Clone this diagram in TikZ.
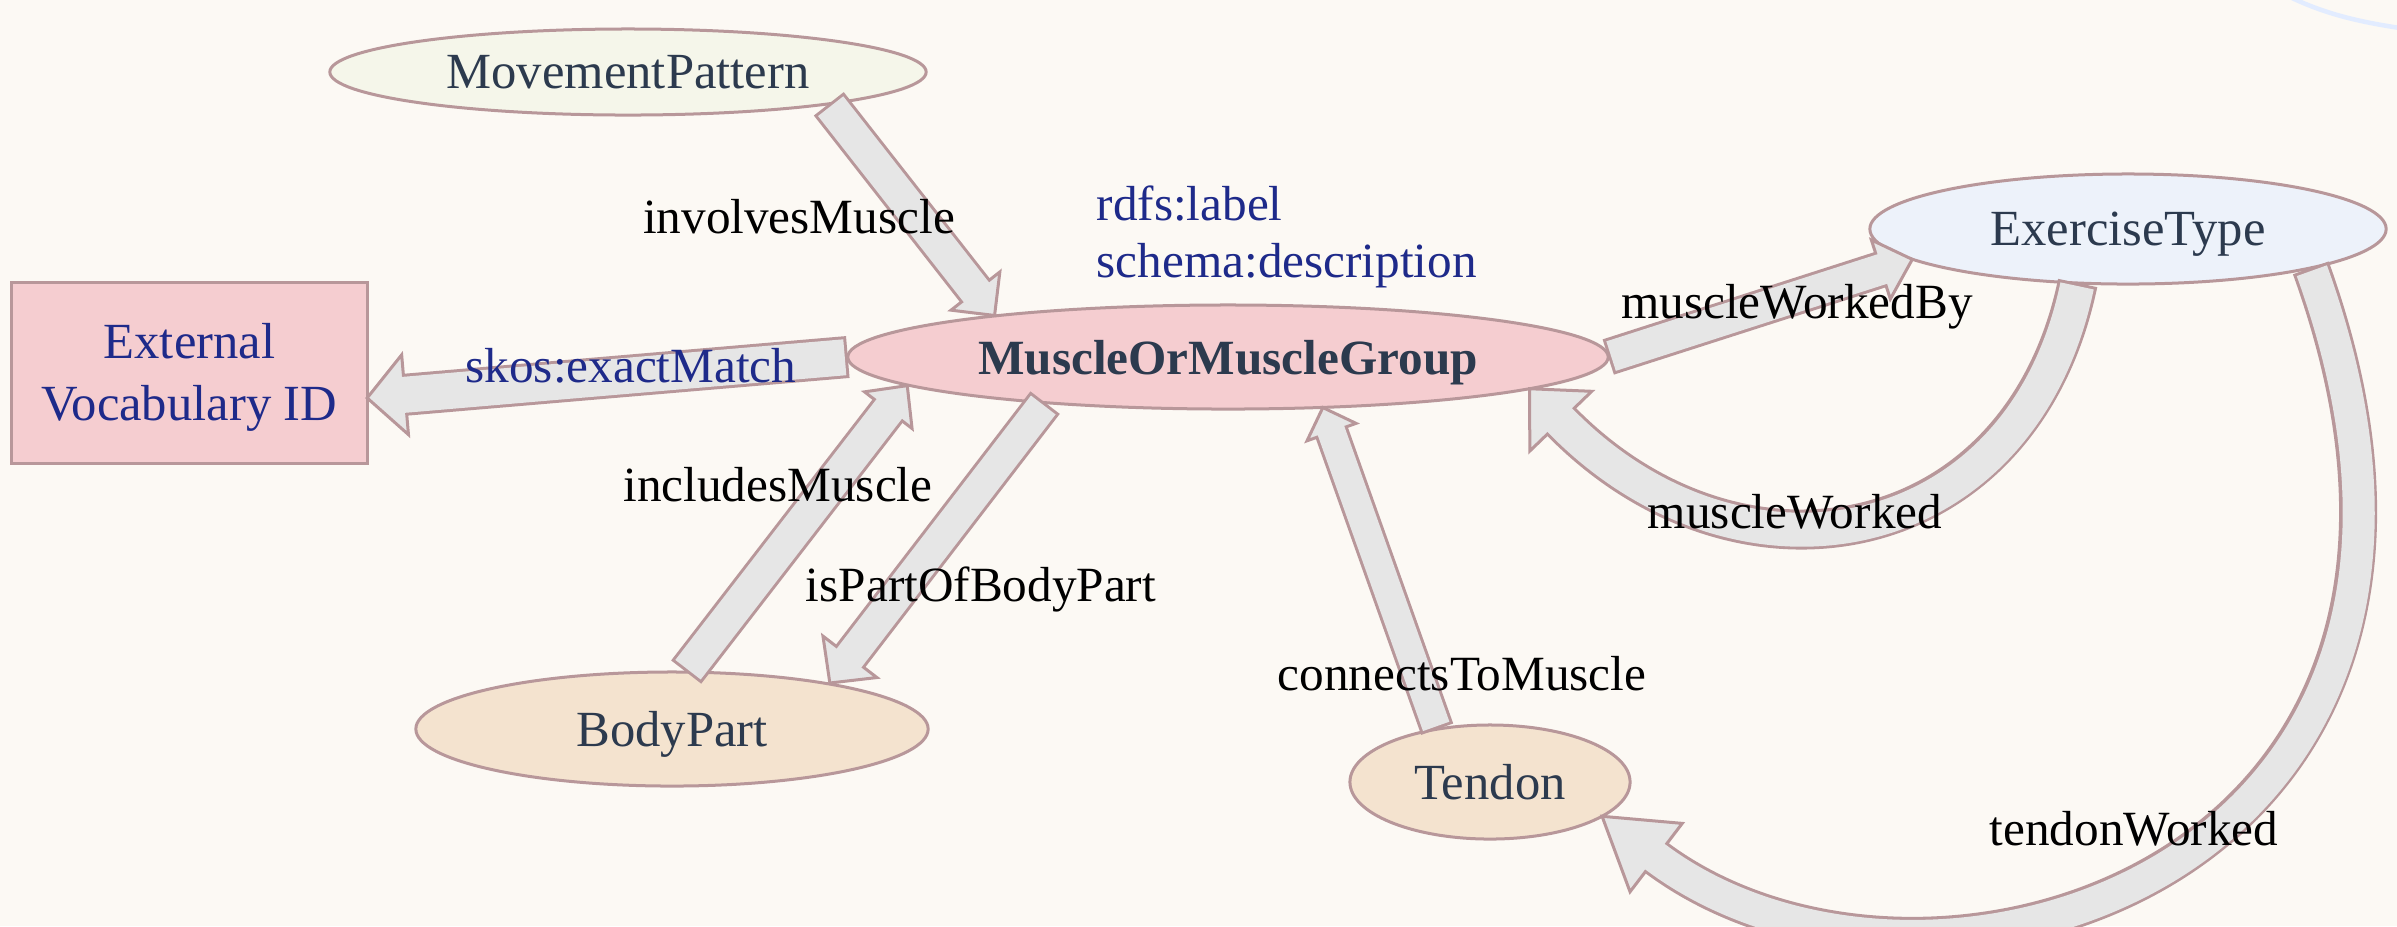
\documentclass[tikz,border=0pt]{standalone}
\usepackage{fontspec}
\setmainfont{Liberation Serif}
\usetikzlibrary{decorations.markings,shapes.geometric}
\definecolor{canvas}{HTML}{FCF9F4}
\definecolor{rim}{HTML}{B8979A}
\definecolor{shaft}{HTML}{E6E6E6}
\definecolor{ink}{HTML}{2C3A4E}
\definecolor{navy}{HTML}{1E2A8A}
\definecolor{sage}{HTML}{F5F6EA}
\definecolor{rose}{HTML}{F5CDD0}
\definecolor{sky}{HTML}{EDF2FA}
\definecolor{sand}{HTML}{F4E3CF}
\definecolor{halo}{HTML}{E2ECFF}

% outlined block arrow: #1 shaft width, #2 head length, #3 head half-width, #4 path
\newcommand\fatarrow[4]{%
  \draw[rim, line width=#1+0.06cm, shorten >=#2-0.03cm] #4;
  \path[decorate, decoration={markings, mark=at position 0.9999 with {%
    \filldraw[fill=shaft, draw=rim, line width=0.03cm, line join=miter]
      (0cm,0cm) -- (-#2,#3) -- (-#2,-#3) -- cycle;}}] #4;
  \draw[shaft, line width=#1, shorten >=#2-0.03cm, shorten <=0.03cm] #4;
}

\begin{document}
\begin{tikzpicture}[x=0.01cm, y=-0.01cm,
  cls/.style={ellipse, draw=rim, line width=0.03cm, inner sep=0pt, outer sep=0pt,
    text=ink, text depth=0pt, font=\fontsize{14.4}{17}\selectfont},
  extbox/.style={rectangle, draw=rim, fill=rose, line width=0.03cm, inner sep=0pt,
    outer sep=0pt, align=center, text=navy, font=\fontsize{14.4}{17.5}\selectfont},
  lbl/.style={anchor=base, inner sep=0pt, text=black, font=\fontsize{14}{16}\selectfont},
  meta/.style={lbl, text=navy}]

\fill[canvas] (0,0) rectangle (2397,926);
\useasboundingbox (0,0) rectangle (2397,926);

% faint arc in the upper right corner
\draw[halo, line width=0.045cm] (2290,-3) .. controls (2325,14) and (2360,22) .. (2400,28);

% classes
\node[cls, fill=sage, minimum width=5.96cm, minimum height=0.86cm] (mp) at (628,72) {MovementPattern};
\node[cls, fill=rose, minimum width=7.6cm, minimum height=1.04cm,
      font=\fontsize{14}{17}\selectfont\bfseries] (mg) at (1228,357) {MuscleOrMuscleGroup};
\node[cls, fill=sky, minimum width=5.16cm, minimum height=1.1cm] (et) at (2128,229) {ExerciseType};
\node[cls, fill=sand, minimum width=5.12cm, minimum height=1.14cm] (bp) at (672,729) {BodyPart};
\node[cls, fill=sand, minimum width=2.8cm, minimum height=1.14cm] (td) at (1490,782) {Tendon};
\node[extbox, minimum width=3.55cm, minimum height=1.8cm] (ext) at (189.5,373)
  {\rule{0pt}{12.6pt}External\\Vocabulary ID};

% properties
\fatarrow{0.32cm}{0.31cm}{0.31cm}{(mp.-9.2) -- (mg.170.6)}
\fatarrow{0.36cm}{0.38cm}{0.40cm}{(mg.west) -- (ext.-8.6)}
\fatarrow{0.32cm}{0.31cm}{0.30cm}{(bp.76) -- (mg.185.7)}
\fatarrow{0.31cm}{0.33cm}{0.34cm}{(mg.194) -- (bp.16.6)}
\fatarrow{0.31cm}{0.33cm}{0.31cm}{(mg.east) -- (et.188)}
\fatarrow{0.34cm}{0.45cm}{0.43cm}{(et.-133) .. controls (2021,554) and (1738,605) .. (mg.-6)}
\fatarrow{0.32cm}{0.68cm}{0.43cm}{(et.-12) .. controls (2532,880) and (1920,1059) .. (td.-17)}
\fatarrow{0.28cm}{0.26cm}{0.26cm}{(td.135.5) -- (mg.-28)}

% property names
\node[lbl] (n-involves) at (799,233) {involvesMuscle};
\node[meta] (n-skos) at (631,382) {skos:exactMatch};
\node[lbl] (n-includes) at (778,501) {includesMuscle};
\node[lbl] (n-partof) at (981,601) {isPartOfBodyPart};
\node[lbl] (n-workedby) at (1797,318) {muscleWorkedBy};
\node[lbl] (n-worked) at (1795,528) {muscleWorked};
\node[lbl] (n-connects) at (1462,690) {connectsToMuscle};
\node[lbl] (n-tendon) at (2134,845) {tendonWorked};
\node[meta, anchor=base west] (n-label) at (1096,220) {rdfs:label};
\node[meta, anchor=base west] (n-desc) at (1096,277) {schema:description};
\end{tikzpicture}
\end{document}
